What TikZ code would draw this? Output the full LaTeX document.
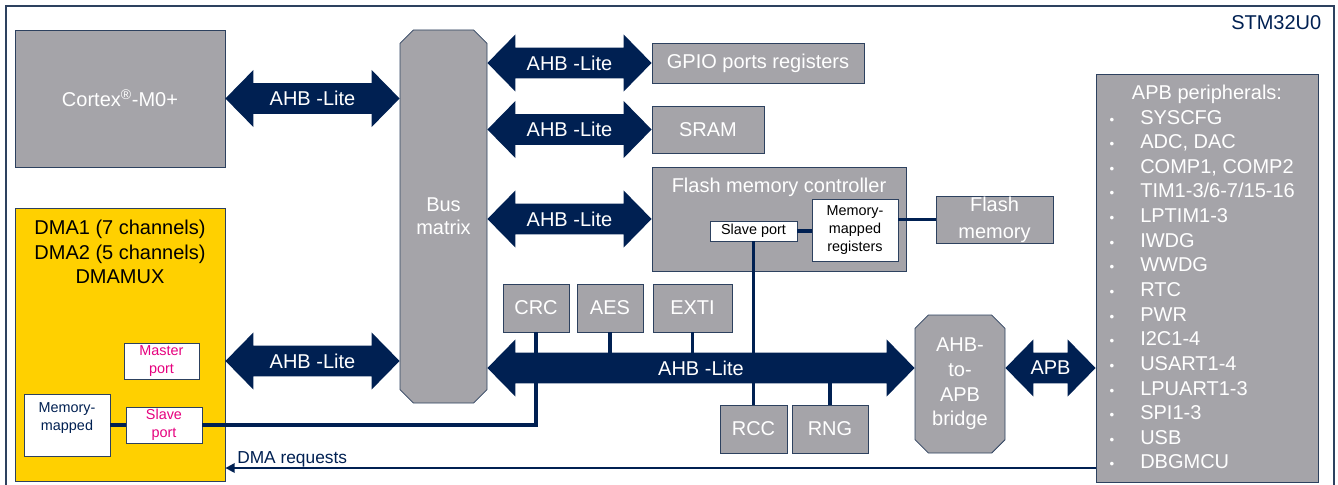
\documentclass[tikz,border=0pt]{standalone}
\usepackage{fontspec}
\setmainfont{Liberation Sans}
\usetikzlibrary{calc,shapes.misc,arrows.meta}

\definecolor{ahbblue}{RGB}{0,32,82}
\definecolor{chipgray}{RGB}{165,164,169}
\definecolor{edge}{RGB}{45,65,95}
\definecolor{dmayellow}{RGB}{255,208,0}
\definecolor{portpink}{RGB}{230,0,126}

\newcommand{\bigf}{\fontsize{15}{17.5}\selectfont}
\newcommand{\smallf}{\fontsize{10.8}{13.2}\selectfont}
\newcommand{\medf}{\fontsize{13}{15}\selectfont}

% fat double arrow between two points, with a label in the middle
\newcommand{\fatarrow}[3]{%
  \fill[ahbblue] let \p1=#1, \p2=#2 in
    (\x1,\y1) -- (\x1+21pt,\y1+21.4pt) -- (\x1+21pt,\y1+11.6pt) -- (\x2-21pt,\y1+11.6pt)
    -- (\x2-21pt,\y1+21.4pt) -- (\x2,\y1) -- (\x2-21pt,\y1-21.4pt) -- (\x2-21pt,\y1-11.6pt)
    -- (\x1+21pt,\y1-11.6pt) -- (\x1+21pt,\y1-21.4pt) -- cycle;
  \node[arrowtext] at ($#1!0.5!#2$) {#3};}

\tikzset{
  sz/.style 2 args={minimum width=#1*0.75pt, minimum height=#2*0.75pt},
  blk/.style={draw=edge, line width=0.6pt, fill=chipgray, text=white, inner sep=0pt, font=\bigf, align=center},
  wbox/.style={draw=edge, line width=0.6pt, fill=white, inner sep=0pt, font=\smallf, align=center},
  chamf/.style={chamfered rectangle, chamfered rectangle xsep=5pt, chamfered rectangle ysep=5pt},
  link/.style={draw=ahbblue, line width=2.3pt},
  arrowtext/.style={text=white, font=\bigf, inner sep=0pt},
  plist/.style={text=white, font=\bigf, inner sep=0pt},
}

\begin{document}
\begin{tikzpicture}[x=0.75pt,y=-0.75pt]
\useasboundingbox (0,0) rectangle (1338,485);

\draw[edge, line width=1pt] (6,495) |- (1334,6) -- (1334,495);
\node[font=\bigf, text=ahbblue, anchor=east] (chip) at (1326,23) {STM32U0};

\node[blk, sz={210}{137}] (cortex) at (120,98.5) {Cortex\textsuperscript{®}-M0+};
\node[blk, chamf, sz={87}{373}] (bus) at (443.5,216.5) {Bus\\matrix};

\node[blk, sz={212}{40}] (gpio) at (758,63) {GPIO ports registers};
\node[blk, sz={112}{47}] (sram) at (708,129.5) {SRAM};
\node[blk, sz={254}{104}] (fmc) at (779,219) {};
\node[text=white, font=\bigf, inner sep=0pt] (fmctitle) at (779,187) {Flash memory controller};
\node[wbox, sz={87}{20}] (fsp) at (753.5,231) {Slave port};
\node[wbox, sz={86}{62}] (fmm) at (855,230) {Memory-\\mapped\\registers};
\node[blk, sz={117}{47}, font={\fontsize{15}{20}\selectfont}] (flash) at (994.5,219.5) {Flash\\memory};

\node[blk, sz={66}{48}] (crc) at (536,308) {CRC};
\node[blk, sz={66}{48}] (aes) at (610,308) {AES};
\node[blk, sz={79}{48}] (exti) at (692.5,308) {EXTI};
\node[blk, sz={67}{48}] (rcc) at (753.5,429) {RCC};
\node[blk, sz={76}{48}] (rng) at (830,429) {RNG};
\node[blk, chamf, sz={90}{138}, font={\fontsize{15}{18.5}\selectfont}] (bridge) at (960,384) {AHB-\\to-\\APB\\bridge};

\node[blk, sz={222}{408}] (apb) at (1207,278) {};
\node[plist, anchor=base] (apbtitle) at (1207,99) {APB peripherals:};
\foreach \per [count=\i from 0] in {SYSCFG, {ADC, DAC}, {COMP1, COMP2}, {TIM1-3/6-7/15-16}, LPTIM1-3, IWDG, WWDG, RTC, PWR, I2C1-4, USART1-4, LPUART1-3, SPI1-3, USB, DBGMCU} {
  \node[plist, anchor=base] (dot\i) at (1112,124+24.64*\i) {\fontsize{10}{10}\selectfont •};
  \node[plist, anchor=base west] (per\i) at (1140,124+24.64*\i) {\per};
}

\node[draw=edge, line width=0.6pt, fill=dmayellow, sz={210}{273}] (dma) at (120,344.5) {};
\node[font={\fontsize{15}{18.4}\selectfont}, align=center, inner sep=0pt] (dmatxt) at (120,252) {DMA1 (7 channels)\\DMA2 (5 channels)\\DMAMUX};
\node[wbox, text=portpink, sz={75}{36}] (mport) at (161.5,361) {Master\\port};
\node[wbox, text=portpink, sz={76}{36}] (dsp) at (164,425) {Slave\\port};
\node[wbox, sz={86}{62}, label={[font=\smallf, text=ahbblue, align=center, yshift=5.25pt]center:Memory-\\mapped}] (dmm) at (67,425) {};

\coordinate (ahb) at (700,368);
\coordinate (dreq) at (700,468);

\draw[link] (fsp.east) -- (fmm.west |- fsp.east);
\draw[link] (fmm.east |- flash.west) -- (flash.west);
\draw[link] (fsp.south) -- (fsp.south |- ahb);
\draw[link] (crc.south) -- (crc.south |- ahb);
\draw[link] (aes.south) -- (aes.south |- ahb);
\draw[link] (exti.south) -- (exti.south |- ahb);
\draw[link] (rcc.north) -- (rcc.north |- ahb);
\draw[link] (rng.north) -- (rng.north |- ahb);
\draw[link] (dmm.east |- dsp.west) -- (dsp.west);
\draw[link] (dsp.east) -| (crc.south |- ahb);

\draw[link, line width=2pt, -{Triangle[length=7pt,width=7pt]}] (apb.west |- dreq) -- (dma.east |- dreq);
\node[font=\medf, text=ahbblue, anchor=base west, inner sep=0pt] (dreqtxt) at (237,463) {DMA requests};

\fatarrow{(cortex.east)}{(bus.west |- cortex.east)}{AHB -Lite}
\fatarrow{(dma.east |- mport.east)}{(bus.west |- mport.east)}{AHB -Lite}
\fatarrow{(bus.east |- gpio.west)}{(gpio.west)}{AHB -Lite}
\fatarrow{(bus.east |- sram.west)}{(sram.west)}{AHB -Lite}
\fatarrow{(bus.east |- fmc.west)}{(fmc.west)}{AHB -Lite}
\fatarrow{(bus.east |- ahb)}{(bridge.west |- ahb)}{AHB -Lite}
\fatarrow{(bridge.east |- ahb)}{(apb.west |- ahb)}{APB}
\end{tikzpicture}
\end{document}
